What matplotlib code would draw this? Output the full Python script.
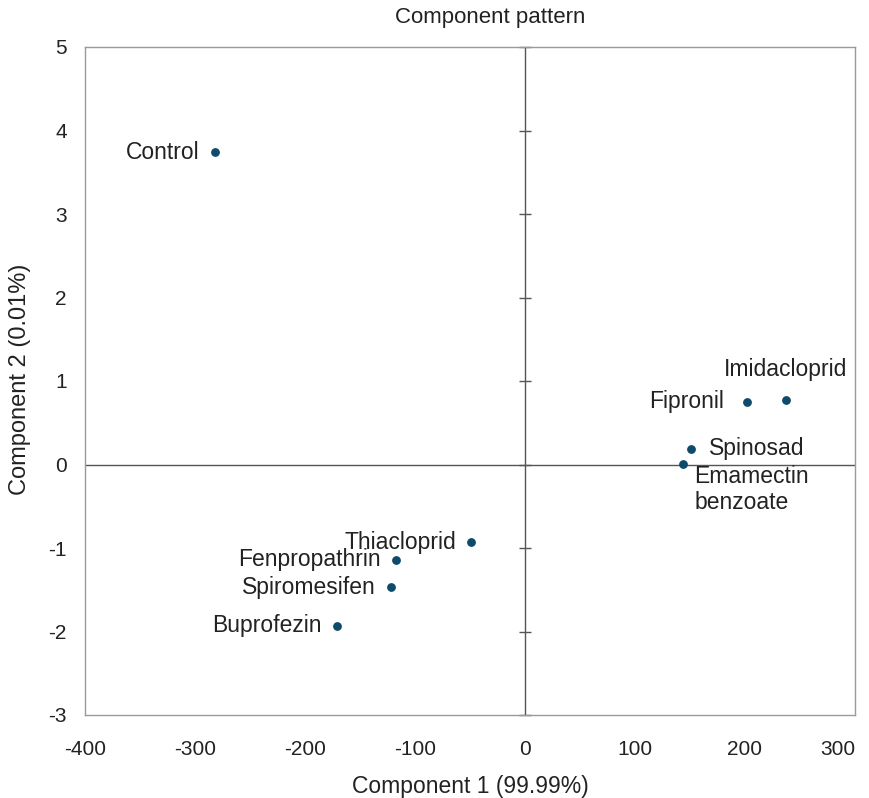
import numpy as np
import matplotlib.pyplot as plt

plt.rcParams['font.family'] = ['Liberation Sans', 'DejaVu Sans']
plt.rcParams['axes.unicode_minus'] = False

names = ["Control", "Imidacloprid", "Fipronil", "Spinosad", "Emamectin\nbenzoate",
         "Thiacloprid", "Fenpropathrin", "Spiromesifen", "Buprofezin"]
comp1 = [-282, 237, 202, 151, 144, -49, -117, -122, -171]
comp2 = [3.74, 0.77, 0.75, 0.19, 0.01, -0.93, -1.14, -1.47, -1.93]

xticks = [-400, -300, -200, -100, 0, 100, 200, 300]
yticks = [-3, -2, -1, 0, 1, 2, 3, 4, 5]

# label placement (offset in points, alignment)
offsets = {
    "Control": ((-11, 0), "right", "center"),
    "Imidacloprid": ((0, 22), "center", "center"),
    "Fipronil": ((-17, 0), "right", "center"),
    "Spinosad": ((13, 0), "left", "center"),
    "Emamectin\nbenzoate": ((8, -1), "left", "top"),
    "Thiacloprid": ((-11, 0), "right", "center"),
    "Fenpropathrin": ((-11, 0), "right", "center"),
    "Spiromesifen": ((-11, 0), "right", "center"),
    "Buprofezin": ((-11, 0), "right", "center"),
}

txt = "#222222"
fig = plt.figure(figsize=(8.69, 7.98), dpi=100)
ax = fig.add_axes([85/869, 83/798, 770/869, 668/798])

ax.set_xlim(-400, 300)
ax.set_ylim(-3, 5)
ax.set_xticks(xticks)
ax.set_yticks(yticks)
ax.tick_params(length=0, colors=txt)
ax.tick_params(axis="x", pad=18, labelsize=15)
ax.tick_params(axis="y", pad=13, labelsize=15)
# keep the last x label inside the figure, as in the original
ax.get_xticklabels()[-1].set_horizontalalignment("right")
ax.get_xticklabels()[-1].set_x(302)
for s in ax.spines.values():
    s.set_color("#9a9a9a")
    s.set_linewidth(1.0)

# central axes, vertical one carries crossing ticks
ax.axhline(0, color="#555555", lw=1.0, zorder=1)
ax.axvline(0, color="#555555", lw=1.0, zorder=1)
ax.plot([0] * len(yticks), yticks, ls="none", marker="_", ms=9, mew=1.0,
        color="#555555", zorder=1, clip_on=False)

ax.scatter(comp1, comp2, s=28, color="#0e4a6a", zorder=3)
for n, x, y in zip(names, comp1, comp2):
    off, ha, va = offsets[n]
    ax.annotate(n, (x, y), xytext=off, textcoords="offset points",
                ha=ha, va=va, fontsize=16.5, color=txt,
                linespacing=1.15)

fig.text(490/869, 1 - 18/798, "Component pattern", fontsize=16, color=txt,
         ha="center", va="center")
fig.text(470/869, 1 - 787/798, "Component 1 (99.99%)", fontsize=16.5, color=txt,
         ha="center", va="center")
fig.text(20/869, 1 - 379/798, "Component 2 (0.01%)", fontsize=17, color=txt,
         ha="center", va="center", rotation=90)

plt.savefig("out.png", dpi=100)
